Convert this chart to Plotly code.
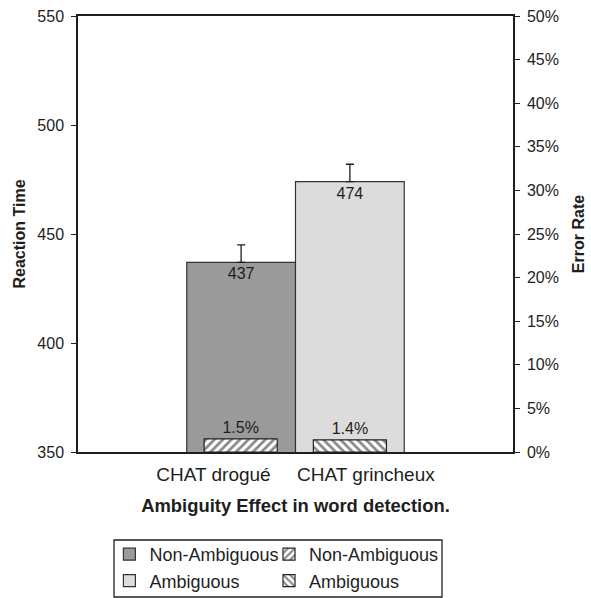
import plotly.graph_objects as go

# Data
categories = ["CHAT drogué", "CHAT grincheux"]
conditions = ["Non-Ambiguous", "Ambiguous"]
reaction_time = [437, 474]
reaction_time_err = [8, 8]
error_rate = [1.5, 1.4]  # percent

# both conditions share one category slot on the x axis
category_label = "\u00a0\u00a0\u00a0\u00a0\u00a0".join(categories)

FONT = "Liberation Sans, Arial, sans-serif"
INK = "#1e1e1e"
rt_colors = ["#9a9a9a", "#dcdcdc"]
hatch_shapes = ["/", "\\"]
rt_offsets = [-0.25, 0.0]
er_offsets = [-0.21, 0.041]

fig = go.Figure()

for i in range(2):
    # Reaction time bar (left axis)
    fig.add_trace(go.Bar(
        x=[category_label], y=[reaction_time[i]], name=conditions[i],
        width=0.25, offset=rt_offsets[i],
        marker=dict(color=rt_colors[i], line=dict(color="#333333", width=1.2)),
        error_y=dict(type="data", symmetric=False,
                     array=[reaction_time_err[i]], arrayminus=[0],
                     color=INK, thickness=1.3, width=4),
        text=[str(reaction_time[i])], textposition="inside",
        insidetextanchor="end",
        textfont=dict(family=FONT, size=16, color=INK),
        yaxis="y", legend="legend",
    ))
for i in range(2):
    # Error rate bar (right axis), hatched
    fig.add_trace(go.Bar(
        x=[category_label], y=[error_rate[i]], name=conditions[i],
        width=0.168, offset=er_offsets[i],
        marker=dict(color="white", line=dict(color="#222222", width=1.2),
                    pattern=dict(shape=hatch_shapes[i], fgcolor="#111111",
                                 bgcolor="white", size=6, solidity=0.45)),
        text=[f"{error_rate[i]}%"], textposition="outside",
        textfont=dict(family=FONT, size=16, color=INK),
        cliponaxis=False,
        yaxis="y2", legend="legend2",
    ))

tick_font = dict(family=FONT, size=16, color=INK)
title_font = dict(family=FONT, size=16, color=INK, weight="bold")
legend_common = dict(
    orientation="v", xanchor="left", xref="paper",
    yanchor="top", yref="container",
    font=dict(family=FONT, size=18, color=INK),
    borderwidth=0, bgcolor="rgba(0,0,0,0)",
    traceorder="normal", itemwidth=30,
)

fig.update_layout(
    width=591, height=598,
    margin=dict(l=78, r=78, t=16, b=146),
    paper_bgcolor="white", plot_bgcolor="white",
    barmode="overlay",
    showlegend=True,
    legend=dict(legend_common, x=0.0722, y=(598 - 536) / 598),
    legend2=dict(legend_common, x=0.4391, y=(598 - 536) / 598),
    # frame around both legend columns
    shapes=[dict(type="rect", xref="paper", yref="paper",
                 x0=0.0828, x1=0.8368, y0=-0.3326, y1=-0.2018,
                 line=dict(color="#222222", width=1.3),
                 fillcolor="rgba(0,0,0,0)", layer="above")],
    xaxis=dict(
        type="category", range=[-0.5, 0.5], automargin=False, tickangle=0,
        showline=True, linecolor=INK, linewidth=1.5, mirror=True,
        ticks="", showgrid=False, ticklabelstandoff=4,
        tickfont=dict(family=FONT, size=19, color=INK),
        title=dict(text="Ambiguity Effect in word detection.",
                   font=dict(family=FONT, size=18.4, color=INK, weight="bold"),
                   standoff=16),
    ),
    yaxis=dict(
        range=[350, 550], dtick=50, tick0=350, automargin=False,
        showline=True, linecolor=INK, linewidth=1.5,
        ticks="outside", ticklen=5, tickcolor=INK, tickwidth=1.3,
        showgrid=False, zeroline=False,
        tickfont=tick_font, ticklabelstandoff=4,
        title=dict(text="Reaction Time", font=title_font, standoff=8),
    ),
    yaxis2=dict(
        range=[0, 50], dtick=5, tick0=0, ticksuffix="%", automargin=False,
        overlaying="y", side="right", anchor="x",
        showline=True, linecolor=INK, linewidth=1.5,
        ticks="outside", ticklen=5, tickcolor=INK, tickwidth=1.3,
        showgrid=False, zeroline=False,
        tickfont=tick_font, ticklabelstandoff=4,
        title=dict(text="Error Rate", font=title_font, standoff=15),
    ),
    # inner halves of the crossing tick marks
    yaxis3=dict(
        range=[350, 550], dtick=50, tick0=350, overlaying="y", side="left",
        anchor="x", ticks="inside", ticklen=5, tickcolor=INK, tickwidth=1.3,
        showticklabels=False, showline=False, showgrid=False, zeroline=False,
        automargin=False,
    ),
    yaxis4=dict(
        range=[0, 50], dtick=5, tick0=0, overlaying="y", side="right",
        anchor="x", ticks="inside", ticklen=5, tickcolor=INK, tickwidth=1.3,
        showticklabels=False, showline=False, showgrid=False, zeroline=False,
        automargin=False,
    ),
)

fig.write_html("out.html")
